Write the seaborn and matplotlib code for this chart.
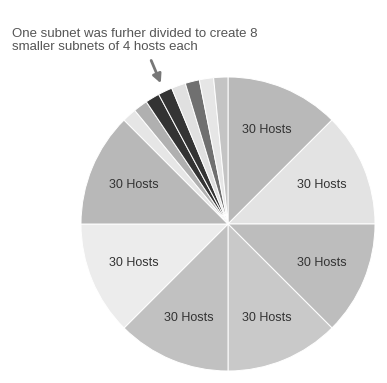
import matplotlib
matplotlib.use("Agg")
import matplotlib.pyplot as plt
import seaborn as sns

# =====================================================
# Data: a /24 split into 8 subnets of 30 hosts,
# the last one split again into 8 subnets of 4 hosts
# =====================================================
big_labels = ["30 Hosts"] * 7
big_sizes = [32] * 7
big_colors = ["#b9b9b9", "#e3e3e3", "#bdbdbd", "#c9c9c9", "#c1c1c1", "#ececec", "#b8b8b8"]

small_labels = [""] * 8
small_sizes = [4] * 8
small_colors = ["#e6e6e6", "#b0b0b0", "#333333", "#343434", "#e0e0e0", "#707070", "#e6e6e6", "#c4c4c4"]

note_text = "One subnet was furher divided to create 8\nsmaller subnets of 4 hosts each"

# =====================================================
# Plot
# =====================================================
sns.set_theme(style="white")
plt.rcParams["font.family"] = ["Liberation Sans", "DejaVu Sans"]

W, H = 387, 383
fig = plt.figure(figsize=(W / 100, H / 100), dpi=100)
cx, cy, r = 228, 224, 147
ax = fig.add_axes([(cx - r) / W, (H - cy - r) / H, 2 * r / W, 2 * r / H])

wedges, texts = ax.pie(
    big_sizes + small_sizes,
    labels=big_labels + small_labels,
    colors=big_colors + small_colors,
    startangle=90,
    counterclock=False,
    labeldistance=0.69,
    wedgeprops=dict(edgecolor="white", linewidth=0.7),
    textprops=dict(fontsize=9, color="#333333"),
)
for t in texts:
    t.set_ha("center")
    t.set_va("center")
ax.set_xlim(-1, 1)
ax.set_ylim(-1, 1)

fig.text(12 / W, 1 - 28 / H, note_text, fontsize=9.5, color="#555555",
         ha="left", va="top", linespacing=1.1)

ax.annotate(
    "",
    xy=(-0.45, 0.94), xycoords="data",
    xytext=(-0.53, 1.13),
    arrowprops=dict(arrowstyle="-|>", color="#777777", lw=2, mutation_scale=13),
    annotation_clip=False,
)

fig.savefig("out.png", dpi=100, facecolor="white")
